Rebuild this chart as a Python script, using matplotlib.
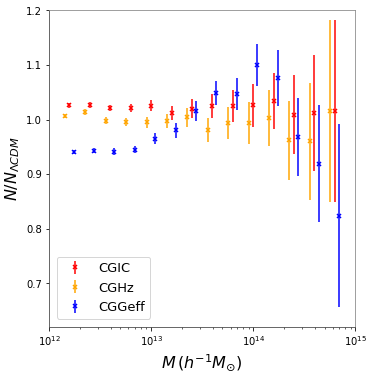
import numpy as np
import matplotlib
matplotlib.use("Agg")
import matplotlib.pyplot as plt

# log10 mass bin centres
logm = [12.2, 12.4, 12.6, 12.8, 13.0, 13.2, 13.4, 13.6, 13.8, 14.0, 14.2, 14.4, 14.6, 14.8]

cgic = [1.026, 1.027, 1.021, 1.021, 1.025, 1.012, 1.020, 1.024, 1.025, 1.026, 1.034, 1.009, 1.012, 1.015]
cghz = [1.006, 1.014, 0.998, 0.996, 0.995, 0.998, 1.004, 0.980, 0.994, 0.994, 1.003, 0.962, 0.960, 1.015]
cggeff = [0.941, 0.943, 0.941, 0.945, 0.965, 0.980, 1.016, 1.049, 1.047, 1.100, 1.076, 0.968, 0.919, 0.824]

err = [0.004, 0.005, 0.006, 0.007, 0.010, 0.013, 0.018, 0.022, 0.029, 0.039, 0.051, 0.072, 0.107, 0.167]

series = [("CGIC", cgic, "red", 0.0),
          ("CGHz", cghz, "orange", -0.045),
          ("CGGeff", cggeff, "blue", 0.04)]

fig = plt.figure(figsize=(5.2, 5.2), dpi=72)
ax = fig.add_axes([0.131, 0.126, 0.818, 0.845])

for name, vals, col, off in series:
    m = 10 ** (np.array(logm) + off)
    ax.errorbar(m, vals, yerr=err, fmt="x", color=col, ecolor=col,
                markersize=4, mew=1.5, elinewidth=1.5, capsize=0,
                label=name)

ax.set_xscale("log")
ax.set_xlim(1e12, 1e15)
ax.set_ylim(0.62, 1.2)
ax.set_yticks([0.7, 0.8, 0.9, 1.0, 1.1, 1.2])
ax.tick_params(labelsize=10)
ax.set_xlabel(r"$M\,(h^{-1}M_{\odot})$", fontsize=16)
ax.set_ylabel(r"$N/N_{\Lambda CDM}$", fontsize=16)
for s in ["top", "right"]:
    ax.spines[s].set_color("#888888")
for s in ["left", "bottom"]:
    ax.spines[s].set_color("#444444")

ax.legend(loc="lower left", fontsize=13, borderaxespad=0.6)

fig.savefig("out.png", dpi=72)
